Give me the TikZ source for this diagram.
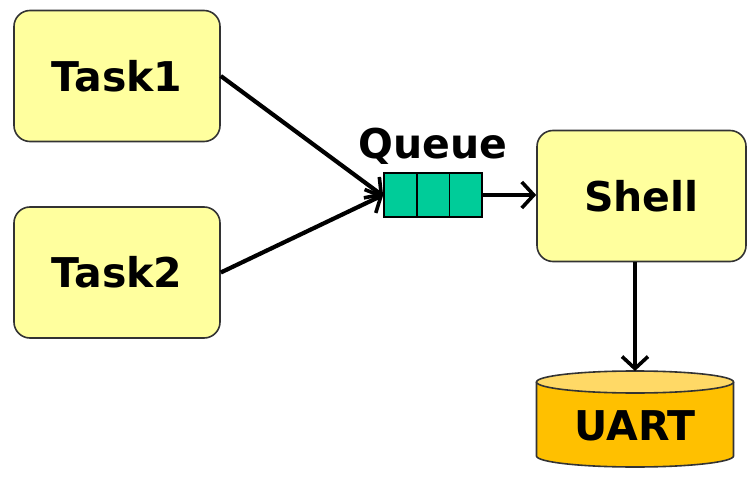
\documentclass[tikz,border=0pt]{standalone}
\usepackage{fontspec}
\setmainfont{DejaVu Sans}
\usetikzlibrary{arrows.meta}
\definecolor{taskfill}{HTML}{FFFF9E}
\definecolor{qfill}{HTML}{00CC99}
\definecolor{uartbody}{HTML}{FFC000}
\definecolor{uarttop}{HTML}{FFD966}
\definecolor{edge}{HTML}{333333}
\begin{document}
\begin{tikzpicture}[x=1pt,y=1pt,
  boxstyle/.style={draw=edge, line width=1.6pt, fill=taskfill, rounded corners=16pt, minimum width=206pt, minimum height=131pt, font=\fontsize{41}{44}\selectfont\bfseries},
  conn/.style={line width=4.2pt, -{Straight Barb[length=12pt,width=26pt,line width=3.6pt]}},
  lbl/.style={font=\fontsize{41}{44}\selectfont\bfseries}]
\useasboundingbox (0,0) rectangle (749,-486);
\node[boxstyle] (task1) at (117,-76) {Task1};
\node[boxstyle] (task2) at (117,-272.5) {Task2};
\node[boxstyle, minimum width=209pt] (shell) at (641.5,-196) {Shell};
% queue
\node[draw=black, line width=1.6pt, fill=qfill, minimum width=98pt, minimum height=44pt, inner sep=0pt] (queue) at (433,-195) {};
\draw[line width=1.6pt] ([xshift=-16.3pt]queue.north) -- ([xshift=-16.3pt]queue.south);
\draw[line width=1.6pt] ([xshift=16.3pt]queue.north) -- ([xshift=16.3pt]queue.south);
\node[lbl, anchor=base] (qlabel) at (433,-159) {Queue};
% UART cylinder
\fill[uartbody] (536.5,-382) -- (536.5,-456) arc[start angle=180,end angle=360,x radius=98.5,y radius=11] -- (733.5,-382) -- cycle;
\draw[edge, line width=1.6pt] (536.5,-382) -- (536.5,-456) arc[start angle=180,end angle=360,x radius=98.5,y radius=11] -- (733.5,-382);
\draw[edge, line width=1.6pt, fill=uarttop] (635,-382) ellipse[x radius=98.5, y radius=11];
\coordinate (uarttopc) at (635,-371);
\node[lbl] (uart) at (635,-426) {UART};
% connectors
\draw[conn] (task1.east) -- ([yshift=-1pt]queue.west);
\draw[conn] (task2.east) -- ([yshift=0pt]queue.west);
\draw[conn] (queue.east) -- (shell.west |- queue.east);
\draw[conn] (shell.south -| uarttopc) -- (uarttopc);
\end{tikzpicture}
\end{document}
